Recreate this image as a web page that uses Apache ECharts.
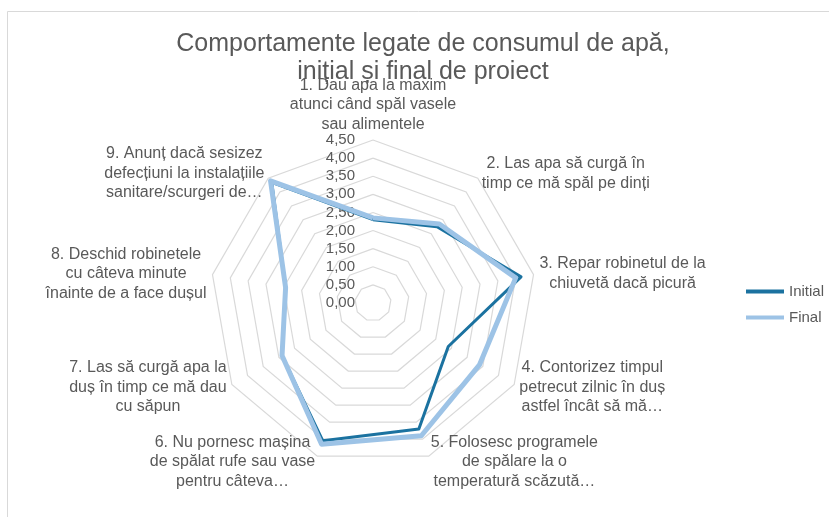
<!DOCTYPE html>
<html>
<head>
<meta charset="utf-8">
<script src="https://cdn.jsdelivr.net/npm/echarts@6/dist/echarts.min.js"></script>
<style>
  html, body { margin: 0; padding: 0; background: #fff; }
  #main { width: 829px; height: 517px; }
</style>
</head>
<body>
<div id="main"></div>
<script>
// date din grafic
var indicatorNames = [
  '1. Dau apa la maxim\natunci când spăl vasele\nsau alimentele',
  '2. Las apa să curgă în\ntimp ce mă spăl pe dinți',
  '3. Repar robinetul de la\nchiuvetă dacă picură',
  '4. Contorizez timpul\npetrecut zilnic în duș\nastfel încât să mă…',
  '5. Folosesc programele\nde spălare la o\ntemperatură scăzută…',
  '6. Nu pornesc mașina\nde spălat rufe sau vase\npentru câteva…',
  '7. Las să curgă apa la\nduș în timp ce mă dau\ncu săpun',
  '8. Deschid robinetele\ncu câteva minute\nînainte de a face dușul',
  '9. Anunț dacă sesizez\ndefecțiuni la instalațiile\nsanitare/scurgeri de…'
];
var initialValues = [2.3, 2.75, 4.15, 2.4, 3.7, 4.05, 2.9, 2.45, 4.35];
var finalValues = [2.35, 2.85, 4.0, 3.4, 3.9, 4.15, 2.9, 2.45, 4.4];
var tickLabels = ['0,00', '0,50', '1,00', '1,50', '2,00', '2,50', '3,00', '3,50', '4,00', '4,50'];
var axisMax = 4.5;

var textColor = '#595959';
var fontName = 'Liberation Sans';
var center = [373, 303];
var radius = 163;

// radarul ECharts merge invers acelor de ceas, asa ca inversam ordinea (primul ramane sus)
function clockwise(arr) {
  return [arr[0]].concat(arr.slice(1).reverse());
}

var myChart = echarts.init(document.getElementById('main'));

var indicators = clockwise(indicatorNames).map(function (n) {
  return { name: n, min: 0, max: axisMax };
});

option = {
  backgroundColor: '#fff',
  animation: false,
  title: {
    text: 'Comportamente legate de consumul de apă,\ninițial și final de proiect',
    left: 418,
    textAlign: 'center',
    top: 25,
    textStyle: {
      fontFamily: fontName,
      fontSize: 25,
      fontWeight: 'normal',
      color: textColor,
      lineHeight: 28
    }
  },
  graphic: [{
    type: 'rect',
    shape: { x: 7.5, y: 11.5, width: 900, height: 600 },
    style: { fill: 'none', stroke: '#d9d9d9', lineWidth: 1 },
    silent: true
  }],
  legend: {
    orient: 'vertical',
    left: 741,
    top: 279,
    itemWidth: 38,
    itemHeight: 4,
    itemGap: 11,
    icon: 'rect',
    textStyle: { fontFamily: fontName, fontSize: 15, color: textColor },
    data: ['Initial', 'Final']
  },
  radar: {
    center: center,
    radius: radius,
    shape: 'polygon',
    splitNumber: 9,
    startAngle: 90,
    indicator: indicators,
    nameGap: 6,
    axisName: {
      color: textColor,
      fontFamily: fontName,
      fontSize: 16,
      lineHeight: 19.5,
      formatter: function (name) {
        return name.split('\n').map(function (l) { return '{c|' + l + '}'; }).join('\n');
      },
      rich: {
        c: { align: 'center', color: textColor, fontFamily: fontName, fontSize: 16, lineHeight: 19.5 }
      }
    },
    axisLine: { show: false },
    axisTick: { show: false },
    axisLabel: { show: false },
    splitArea: { show: false },
    splitLine: { lineStyle: { color: '#d9d9d9', width: 1.2 } }
  },
  // axa cu etichete 0,00 ... 4,50
  polar: { center: center, radius: radius },
  angleAxis: {
    startAngle: 90,
    show: false,
    min: 0,
    max: 360
  },
  radiusAxis: {
    min: 0,
    max: axisMax,
    interval: 0.5,
    axisLine: { show: false },
    axisTick: { show: false },
    splitLine: { show: false },
    axisLabel: {
      margin: 18,
      color: textColor,
      fontFamily: fontName,
      fontSize: 15,
      formatter: function (v, i) { return tickLabels[i]; }
    }
  },
  series: [
    {
      name: 'Initial',
      type: 'radar',
      symbol: 'none',
      lineStyle: { color: '#1b72a0', width: 3 },
      itemStyle: { color: '#1b72a0' },
      data: [{ name: 'Initial', value: clockwise(initialValues) }]
    },
    {
      name: 'Final',
      type: 'radar',
      symbol: 'none',
      lineStyle: { color: '#9dc3e6', width: 5 },
      itemStyle: { color: '#9dc3e6' },
      data: [{ name: 'Final', value: clockwise(finalValues) }]
    }
  ]
};

myChart.setOption(option);
</script>
</body>
</html>
